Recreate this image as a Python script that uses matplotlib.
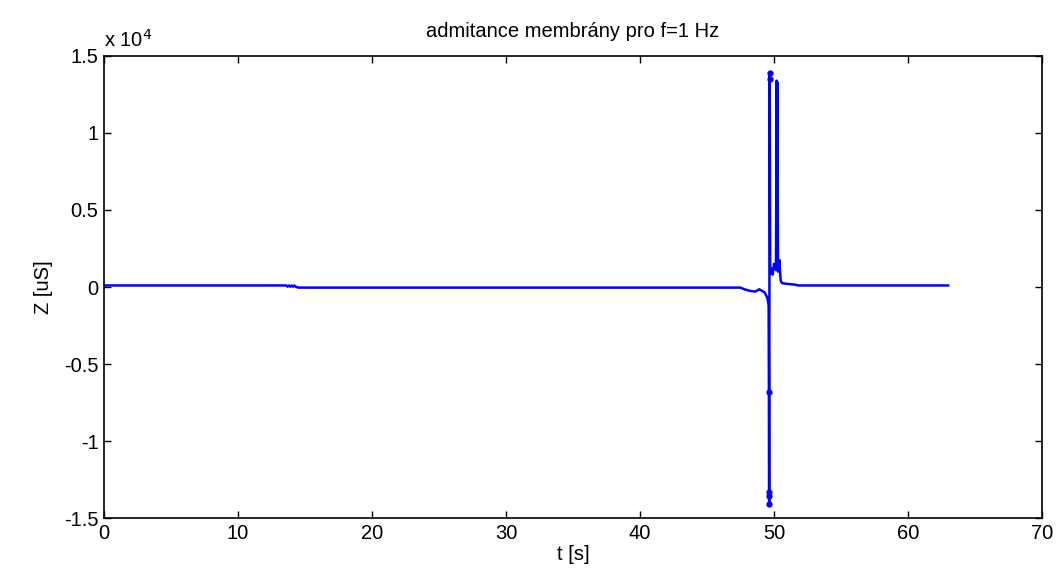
import matplotlib
matplotlib.use('Agg')
import matplotlib.pyplot as plt
from matplotlib.ticker import FuncFormatter

plt.rcParams['font.family'] = ['Liberation Sans', 'DejaVu Sans']

# time [s] and admittance [uS]
t = [0, 13.6, 13.7, 13.8, 13.9, 14.0, 14.1, 14.2, 14.3, 14.5, 47.5, 47.8, 48.2, 48.6,
     48.9, 49.1, 49.3, 49.5, 49.55, 49.6, 49.62, 49.63, 49.64, 49.65, 49.66, 49.67,
     49.68, 49.72, 49.8, 49.9, 50.0, 50.15, 50.2, 50.22, 50.26, 50.3, 50.4, 50.5,
     50.6, 51.0, 51.6, 51.8, 63.0]
z = [100, 100, 20, 100, 20, 100, 20, 100, 20, -40, -40, -150, -250, -300,
     -150, -250, -350, -700, -900, -1200, -6800, -13300, -14100, -13600, 1000, 13900,
     13500, 900, 1200, 800, 1500, 1100, 13400, 1200, 13300, 1000, 1750, 400,
     250, 200, 150, 100, 100]
# samples where the dots show up in the reference
dots = [20, 21, 22, 23, 25, 26]

yticks = [-15000, -10000, -5000, 0, 5000, 10000, 15000]
xticks = [0, 10, 20, 30, 40, 50, 60, 70]

fig = plt.figure(figsize=(10.57, 5.88), dpi=100)
ax = fig.add_axes([0.0984, 0.119, 0.8874, 0.7858])

ax.plot(t, z, color=(0, 0, 1), lw=1.8, marker='.', markersize=7, markevery=dots)

ax.set_xlim(0, 70)
ax.set_ylim(-15000, 15000)
ax.set_xticks(xticks)
ax.set_yticks(yticks)
ax.yaxis.set_major_formatter(FuncFormatter(lambda v, p: '%g' % (v / 1e4)))
ax.tick_params(direction='in', top=True, right=True, length=5, width=1,
               labelsize=14.5, pad=4)
for s in ax.spines.values():
    s.set_linewidth(1.2)

ax.text(0.0, 1.012, r'x 10$^4$', transform=ax.transAxes, fontsize=14.5,
        ha='left', va='bottom')
ax.set_title('admitance membrány pro f=1 Hz', fontsize=14.5, pad=14)
ax.set_xlabel('t [s]', fontsize=14.5, labelpad=2)
ax.set_ylabel('Z [uS]', fontsize=14.5, labelpad=8)

fig.savefig('out.png', dpi=100)
